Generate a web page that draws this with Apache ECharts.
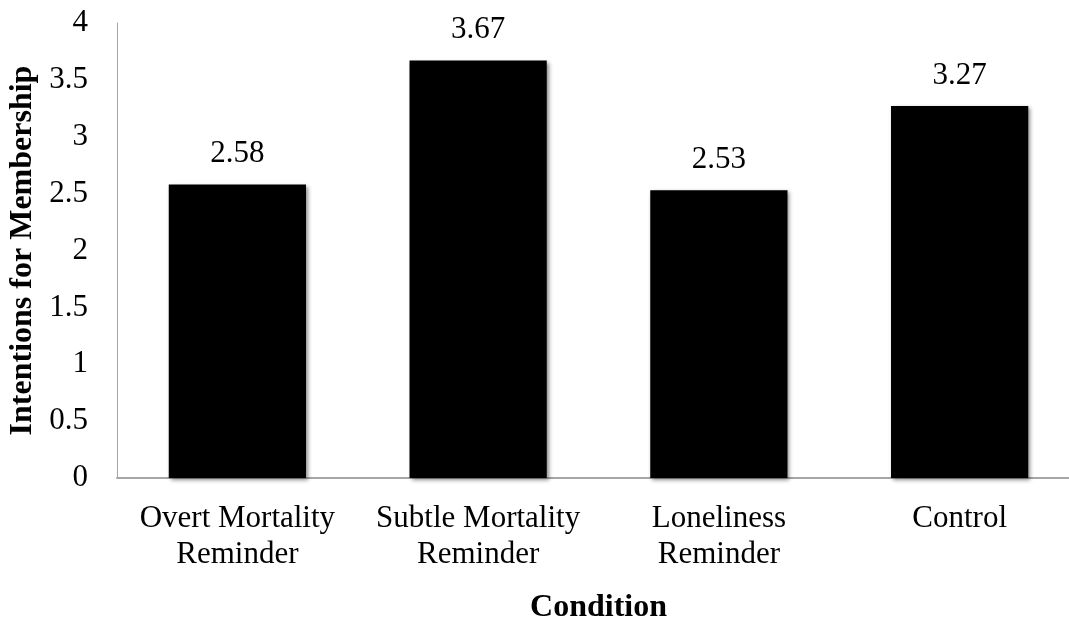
<!DOCTYPE html>
<html>
<head>
<meta charset="utf-8">
<script src="https://cdn.jsdelivr.net/npm/echarts@6/dist/echarts.min.js"></script>
<style>
  html, body { margin: 0; padding: 0; background: #fff; }
  #chart { width: 1069px; height: 620px; }
</style>
</head>
<body>
<div id="chart"></div>
<script>
// Conditions and mean intention scores
const categories = [
  'Overt Mortality\nReminder',
  'Subtle Mortality\nReminder',
  'Loneliness\nReminder',
  'Control'
];
const meanScores = [2.58, 3.67, 2.53, 3.27];

// Value-axis range and step
const yMin = 0;
const yMax = 4;
const yStep = 0.5;

const serif = '"Liberation Serif", "Times New Roman", serif';
const axisGray = '#a6a6a6';

const chart = echarts.init(document.getElementById('chart'), null, { renderer: 'canvas' });

chart.setOption({
  animation: false,
  backgroundColor: '#ffffff',
  grid: {
    left: 117,
    right: -11,
    top: 23,
    bottom: 142,
    containLabel: false,
    outerBoundsMode: 'none'
  },
  xAxis: {
    type: 'category',
    data: categories,
    name: 'Condition',
    nameLocation: 'middle',
    nameGap: 114,
    nameTextStyle: {
      fontFamily: serif,
      fontSize: 32,
      fontWeight: 'bold',
      color: '#000'
    },
    axisLine: { show: true, lineStyle: { color: axisGray, width: 2 } },
    axisTick: { show: false },
    axisLabel: {
      fontFamily: serif,
      fontSize: 31,
      lineHeight: 36,
      color: '#000',
      margin: 23,
      interval: 0
    },
    splitLine: { show: false }
  },
  yAxis: {
    type: 'value',
    min: yMin,
    max: yMax,
    interval: yStep,
    name: 'Intentions for Membership',
    nameLocation: 'middle',
    nameGap: 73,
    nameRotate: 90,
    nameTextStyle: {
      fontFamily: serif,
      fontSize: 32,
      fontWeight: 'bold',
      color: '#000'
    },
    axisLine: { show: true, lineStyle: { color: axisGray, width: 1 } },
    axisTick: { show: false },
    axisLabel: {
      fontFamily: serif,
      fontSize: 31,
      color: '#000',
      margin: 29,
      padding: [4, 0, 0, 0]
    },
    splitLine: { show: false }
  },
  series: [{
    type: 'bar',
    data: meanScores,
    barWidth: '57%',
    itemStyle: {
      color: '#000000',
      shadowColor: 'rgba(0,0,0,0.45)',
      shadowBlur: 4,
      shadowOffsetX: 2,
      shadowOffsetY: 2
    },
    label: {
      show: true,
      position: 'top',
      distance: 15,
      fontFamily: serif,
      fontSize: 31,
      color: '#000',
      formatter: p => p.value.toFixed(2)
    }
  }]
});
</script>
</body>
</html>
